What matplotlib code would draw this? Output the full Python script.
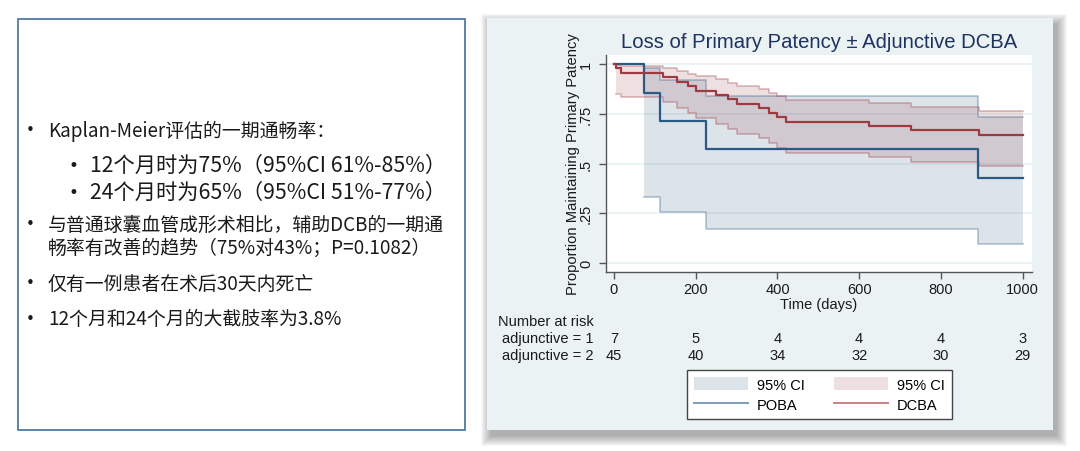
import numpy as np
import matplotlib.pyplot as plt
import matplotlib.transforms as mtransforms
from matplotlib.patches import Rectangle, Patch
from matplotlib.lines import Line2D

W, H = 1080, 452

# Kaplan-Meier curves (days, survival, 95% CI)
poba_t = [0, 73, 113, 225, 890, 1000]
poba_s = [1.0, 0.857, 0.714, 0.571, 0.429, 0.429]
poba_lo = [1.0, 0.334, 0.258, 0.172, 0.098, 0.098]
poba_hi = [1.0, 0.979, 0.920, 0.837, 0.734, 0.734]

dcba_t = [0, 4, 18, 120, 155, 180, 200, 250, 278, 300, 355, 380, 400, 420, 625, 726, 894, 1000]
dcba_s = [1.0, .978, .956, .933, .911, .889, .867, .844, .822, .800, .778, .756, .733, .711, .689, .667, .644, .644]
dcba_lo = [1.0, .852, .834, .807, .780, .753, .727, .701, .676, .651, .626, .602, .578, .555, .532, .509, .487, .487]
dcba_hi = [1.0, .997, .989, .978, .966, .952, .938, .923, .907, .891, .874, .856, .839, .821, .803, .784, .765, .765]

risk_x = [0, 200, 400, 600, 800, 1000]
risk_poba = [7, 5, 4, 4, 4, 3]
risk_dcba = [45, 40, 34, 32, 30, 29]

yticks = [0, 0.25, 0.5, 0.75, 1]
ytick_labels = ["0", ".25", ".5", ".75", "1"]

bullets = [
    (131, 0, "Kaplan-Meier评估的一期通畅率："),
    (166, 1, "12个月时为75%（95%CI 61%-85%）"),
    (193, 1, "24个月时为65%（95%CI 51%-77%）"),
    (225, 0, "与普通球囊血管成形术相比，辅助DCB的一期通"),
    (248, -1, "畅率有改善的趋势（75%对43%；P=0.1082）"),
    (284, 0, "仅有一例患者在术后30天内死亡"),
    (320, 0, "12个月和24个月的大截肢率为3.8%"),
]

NAVY = "#2b5a86"
MAROON = "#9e3a41"
STATA_BG = "#EAF2F3"
TXT = "#1a1a1a"


def fx(x):
    return x / W


def fy(y):
    return 1 - y / H


fig = plt.figure(figsize=(10.8, 4.52), dpi=100)
fig.patch.set_facecolor("white")

# ---- left text box
fig.add_artist(Rectangle((fx(18), fy(431)), fx(465 - 18), (431 - 20) / H,
                         transform=fig.transFigure, fill=False,
                         edgecolor="#41719C", lw=1.2))
cjk = ["Noto Sans CJK SC", "DejaVu Sans"]
for y, lvl, txt in bullets:
    if lvl == 1:
        fig.text(fx(73), fy(y), "•", ha="center", va="center", fontsize=12, family="DejaVu Sans", color=TXT)
        fig.text(fx(90), fy(y), txt, ha="left", va="center", fontsize=15.3, family=cjk, color=TXT)
    else:
        if lvl == 0:
            fig.text(fx(30), fy(y), "•", ha="center", va="center", fontsize=11, family="DejaVu Sans", color=TXT)
        fig.text(fx(48), fy(y), txt, ha="left", va="center", fontsize=13.6, family=cjk, color=TXT)

# ---- Stata panel with drop shadow
px0, py0, px1, py1 = 487, 19, 1053, 431
for k in range(11):
    fig.add_artist(Rectangle((fx(px0 + 4 - k), fy(py1 + 6 + k)),
                             (px1 - px0 + 2 * k) / W, (py1 - py0 + 2 * k) / H,
                             transform=fig.transFigure, color="black",
                             alpha=0.03, lw=0, zorder=0))
fig.add_artist(Rectangle((fx(px0), fy(py1)), (px1 - px0) / W, (py1 - py0) / H,
                         transform=fig.transFigure, color=STATA_BG, lw=0, zorder=1))

ax = fig.add_axes([fx(605.5), fy(273), (1032 - 605.5) / W, (273 - 55.7) / H])
ax.set_zorder(2)
ax.set_facecolor("white")
ax.set_xlim(-20.8, 1023)
ax.set_ylim(-0.045, 1.047)

ax.fill_between(poba_t, poba_lo, poba_hi, step="post", color="#1a476f", alpha=0.15, lw=0)
ax.fill_between(dcba_t, dcba_lo, dcba_hi, step="post", color="#90353b", alpha=0.15, lw=0)
ax.step(poba_t[1:], poba_lo[1:], where="post", color=NAVY, alpha=0.35, lw=1.2)
ax.step(poba_t[1:], poba_hi[1:], where="post", color=NAVY, alpha=0.35, lw=1.2)
ax.step(dcba_t[1:], dcba_lo[1:], where="post", color=MAROON, alpha=0.35, lw=1.2)
ax.step(dcba_t[1:], dcba_hi[1:], where="post", color=MAROON, alpha=0.35, lw=1.2)
ax.step(poba_t, poba_s, where="post", color=NAVY, lw=1.6)
ax.step(dcba_t, dcba_s, where="post", color=MAROON, lw=1.6)

for s in ["top", "right"]:
    ax.spines[s].set_visible(False)
for s in ["left", "bottom"]:
    ax.spines[s].set_color("#555555")
    ax.spines[s].set_linewidth(1.0)
ax.set_xticks(risk_x)
ax.set_yticks(yticks)
ax.set_yticklabels(ytick_labels, rotation=90, va="center")
ax.tick_params(direction="out", length=5, width=1, color="#555555",
               labelsize=10.5, labelcolor=TXT)
ax.tick_params(axis="y", pad=4)
ax.tick_params(axis="x", pad=2.5)
for lab in ax.get_xticklabels() + ax.get_yticklabels():
    lab.set_family("Liberation Sans")
ax.yaxis.grid(True, color=STATA_BG, lw=1.3)
ax.set_axisbelow(True)

sans = "Liberation Sans"
fig.text(fx(818.7), fy(42), "Loss of Primary Patency ± Adjunctive DCBA", ha="center", va="center",
         fontsize=14.6, color="#1E3360", family=sans, zorder=3)
fig.text(fx(573), fy(164), "Proportion Maintaining Primary Patency", rotation=90, ha="center",
         va="center", fontsize=10.6, color=TXT, family=sans, zorder=3)
fig.text(fx(818.7), fy(305), "Time (days)", ha="center", va="center", fontsize=10.5,
         color=TXT, family=sans, zorder=3)

# number at risk table
fig.text(fx(498), fy(322), "Number at risk", ha="left", va="center", fontsize=10.5,
         color=TXT, family=sans, zorder=3)
fig.text(fx(502), fy(339), "adjunctive = 1", ha="left", va="center", fontsize=10.5,
         color=TXT, family=sans, zorder=3)
fig.text(fx(502), fy(356), "adjunctive = 2", ha="left", va="center", fontsize=10.5,
         color=TXT, family=sans, zorder=3)
trans = mtransforms.blended_transform_factory(ax.transData, fig.transFigure)
for x, n1, n2 in zip(risk_x, risk_poba, risk_dcba):
    fig.text(x, fy(339), str(n1), transform=trans, ha="center", va="center", fontsize=10.5,
             color=TXT, family=sans, zorder=3)
    fig.text(x, fy(356), str(n2), transform=trans, ha="center", va="center", fontsize=10.5,
             color=TXT, family=sans, zorder=3)

handles = [Patch(facecolor="#1a476f", alpha=0.15, lw=0), Line2D([], [], color="#7d9cbc", lw=1.4),
           Patch(facecolor="#90353b", alpha=0.15, lw=0), Line2D([], [], color="#c98085", lw=1.4)]
labels = ["95% CI", "POBA", "95% CI", "DCBA"]
leg = fig.legend(handles, labels, ncol=2, loc="upper left", bbox_to_anchor=(fx(687), fy(371)),
                 frameon=True, fancybox=False, edgecolor="#444444", framealpha=1,
                 handlelength=3.7, handleheight=1.0, handletextpad=0.6, columnspacing=2.0,
                 labelspacing=0.4, borderpad=0.5, borderaxespad=0,
                 prop={"family": sans, "size": 10.5})
leg.get_frame().set_linewidth(1.0)
leg.set_zorder(3)

fig.savefig("out.png", dpi=100)
